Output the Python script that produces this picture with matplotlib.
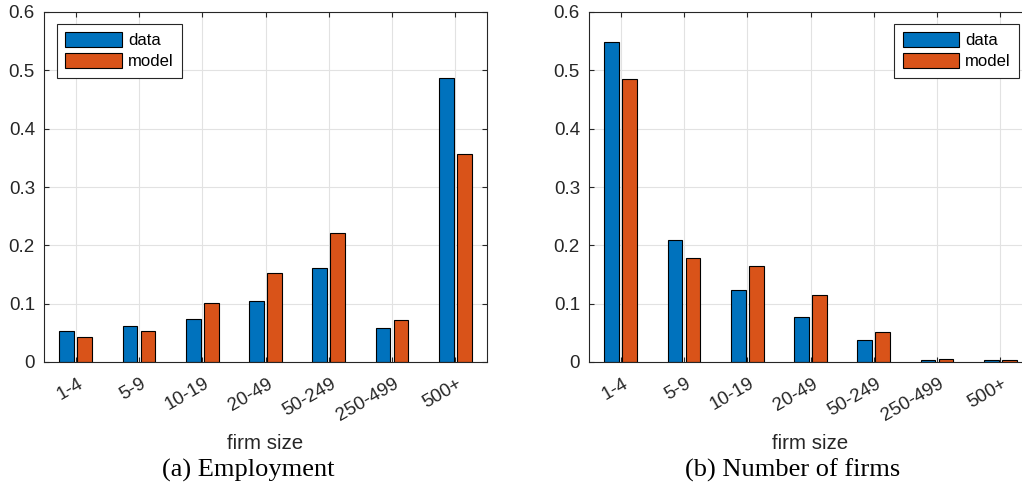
import numpy as np
import matplotlib
matplotlib.use("Agg")
import matplotlib.pyplot as plt
import matplotlib.transforms as mtransforms

# firm size classes
size_classes = ["1-4", "5-9", "10-19", "20-49", "50-249", "250-499", "500+"]

# share of employment by firm size
emp_data = [0.0537, 0.0611, 0.0742, 0.1039, 0.1620, 0.0577, 0.4875]
emp_model = [0.0428, 0.0531, 0.1016, 0.1530, 0.2204, 0.0725, 0.3560]

# share of firms by firm size
firms_data = [0.5486, 0.2084, 0.1227, 0.0765, 0.0371, 0.0040, 0.0040]
firms_model = [0.4847, 0.1775, 0.1650, 0.1142, 0.0514, 0.0050, 0.0035]

y_ticks = [0, 0.1, 0.2, 0.3, 0.4, 0.5, 0.6]
y_ticklabels = ["0", "0.1", "0.2", "0.3", "0.4", "0.5", "0.6"]

BLUE = "#0072BD"
ORANGE = "#D95319"
AXCOL = "#262626"

plt.rcParams["font.family"] = ["Liberation Sans", "DejaVu Sans"]

fig = plt.figure(figsize=(10.22, 4.88), dpi=100)
W, H = 1022.0, 488.0


def px_axes(left, top, right, bottom):
    return fig.add_axes([left / W, 1 - bottom / H, (right - left) / W, (bottom - top) / H])


def draw_panel(ax, data, model, legend_loc, legend_anchor):
    x = np.arange(1, len(size_classes) + 1)
    ax.bar(x - 0.143, data, width=0.232, color=BLUE, edgecolor="black",
           linewidth=0.8, label="data", zorder=2)
    ax.bar(x + 0.143, model, width=0.232, color=ORANGE, edgecolor="black",
           linewidth=0.8, label="model", zorder=2)

    ax.set_xlim(0.5, len(size_classes) + 0.5)
    ax.set_ylim(0, 0.6)
    ax.set_yticks(y_ticks)
    ax.set_yticklabels(y_ticklabels)
    ax.set_xticks(x)
    ax.set_xticklabels(size_classes, rotation=30, ha="right")

    ax.set_axisbelow(True)
    ax.grid(True, color="#e2e2e2", linewidth=0.8)
    ax.tick_params(axis="both", direction="in", length=3.5, width=0.8,
                   colors=AXCOL, labelsize=13.5, top=True, right=True)
    ax.tick_params(axis="x", pad=9.5)
    ax.tick_params(axis="y", pad=6.5)
    for sp in ax.spines.values():
        sp.set_color(AXCOL)
        sp.set_linewidth(0.8)

    # nudge rotated labels so their ends sit just right of the tick
    shift = mtransforms.ScaledTranslation(10 / 100, 0, fig.dpi_scale_trans)
    for lbl in ax.get_xticklabels():
        lbl.set_transform(lbl.get_transform() + shift)

    ax.set_xlabel("firm size", fontsize=14.8, color=AXCOL)
    ax.xaxis.set_label_coords(0.5, -0.205)
    ax.xaxis.label.set_va("top")

    leg = ax.legend(loc=legend_loc, bbox_to_anchor=legend_anchor, borderaxespad=0,
                    fontsize=12, frameon=True, fancybox=False, framealpha=1,
                    handlelength=3.4, handleheight=0.95, handletextpad=0.35,
                    labelspacing=0.3, borderpad=0.5)
    leg.get_frame().set_edgecolor(AXCOL)
    leg.get_frame().set_linewidth(0.8)


ax1 = px_axes(44, 12, 487, 362)
draw_panel(ax1, emp_data, emp_model, "upper left", (0.0293, 0.9657))

ax2 = px_axes(589, 12, 1032, 362)
draw_panel(ax2, firms_data, firms_model, "upper right", (0.9707, 0.9657))

fig.text(248.5 / W, 1 - 477 / H, "(a) Employment", ha="center", va="baseline",
         fontsize=19, family=["Liberation Serif", "DejaVu Serif"])
fig.text(793 / W, 1 - 477 / H, "(b) Number of firms", ha="center", va="baseline",
         fontsize=19, family=["Liberation Serif", "DejaVu Serif"])

fig.savefig("out.png", dpi=100)
